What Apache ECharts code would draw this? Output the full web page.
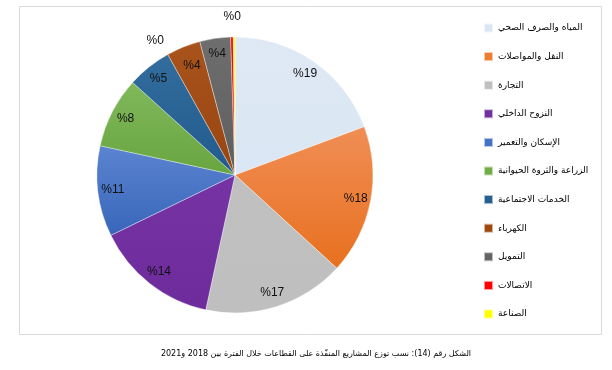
<!DOCTYPE html>
<html>
<head>
<meta charset="utf-8">
<script src="https://cdn.jsdelivr.net/npm/echarts@6/dist/echarts.min.js"></script>
<style>
html,body{margin:0;padding:0;background:#fff;}
#chart{width:612px;height:370px;}
</style>
</head>
<body>
<div id="chart" dir="rtl"></div>
<script>
// ---- data ----
const categories = [
  'المياه والصرف الصحي',
  'النقل والمواصلات',
  'التجارة',
  'النزوح الداخلي',
  'الإسكان والتعمير',
  'الزراعة والثروة الحيوانية',
  'الخدمات الاجتماعية',
  'الكهرباء',
  'التمويل',
  'الاتصالات',
  'الصناعة'
];
const shares = [19.3, 17.5, 16.6, 14.4, 10.6, 8.3, 5.2, 4.0, 3.6, 0.3, 0.2];
const caption = 'الشكل رقم (14): نسب توزع المشاريع المنفّذة على القطاعات خلال الفترة بين 2018 و2021';

// ---- styles ----
const colorsTop    = ['#dfe9f5', '#f08e55', '#c0c0c0', '#7533a4', '#5b84d0', '#80b85a', '#336d9e', '#a9531c', '#6e6e6e', '#ff0000', '#ffff00'];
const colorsBottom = ['#dae6f3', '#e8701f', '#bfbfbf', '#6d2b9b', '#3966ba', '#68a540', '#215a8c', '#984510', '#5e5e5e', '#ff0000', '#ffff00'];
const legendColors = ['#dae6f3', '#ed7d31', '#bfbfbf', '#7030a0', '#4472c4', '#70ad47', '#255e91', '#9e480e', '#636363', '#ff0000', '#ffff00'];

const center = [235, 175];
const R = 138;

const pieData = categories.map((name, i) => ({
  name: name,
  value: shares[i],
  itemStyle: {
    color: new echarts.graphic.LinearGradient(0, 0, 0, 1, [
      {offset: 0, color: colorsTop[i]},
      {offset: 1, color: colorsBottom[i]}
    ])
  }
}));
const labelData = categories.map((name, i) => ({name: name, value: shares[i]}));

// label nudges for the two tiny slices (moved outside like the reference)
const nudge = {7: {dx: 3, dy: 5}, 9: {dx: 0, dy: -35}, 10: {dx: -79, dy: -11}};

const chart = echarts.init(document.getElementById('chart'), null, {renderer: 'canvas'});
chart.setOption({
  backgroundColor: '#ffffff',
  animation: false,
  color: legendColors,
  title: {
    text: caption,
    left: 316,
    textAlign: 'center',
    top: 350,
    padding: 0,
    textStyle: {fontSize: 8, fontWeight: 'normal', color: '#000', fontFamily: 'DejaVu Sans'}
  },
  graphic: [{
    type: 'rect',
    silent: true,
    shape: {x: 19.5, y: 6.5, width: 582, height: 328},
    style: {fill: 'none', stroke: '#d9d9de', lineWidth: 1}
  }],
  legend: {
    orient: 'vertical',
    left: 483,
    top: 21,
    padding: 0,
    itemWidth: 9,
    itemHeight: 9,
    itemGap: 14.6,
    icon: 'rect',
    data: categories.map((n, i) => ({name: n, itemStyle: {color: legendColors[i]}})),
    textStyle: {fontSize: 9, color: '#000', fontFamily: 'DejaVu Sans', lineHeight: 14}
  },
  series: [{
    type: 'pie',
    center: center,
    radius: [0, R],
    startAngle: 90,
    clockwise: true,
    silent: true,
    label: {show: false},
    labelLine: {show: false},
    itemStyle: {borderColor: 'rgba(255,255,255,0.6)', borderWidth: 0.6},
    emphasis: {disabled: true},
    data: pieData
  }, {
    type: 'pie',
    center: center,
    radius: [102, R],
    startAngle: 90,
    clockwise: true,
    silent: true,
    itemStyle: {color: 'rgba(0,0,0,0)', borderWidth: 0},
    emphasis: {disabled: true},
    label: {
      show: true,
      position: 'inside',
      formatter: p => '%' + Math.round(p.value),
      fontSize: 12,
      color: '#111',
      fontFamily: 'Liberation Sans'
    },
    labelLine: {show: false},
    labelLayout: p => nudge[p.dataIndex] || {},
    data: labelData
  }]
});
</script>
</body>
</html>
